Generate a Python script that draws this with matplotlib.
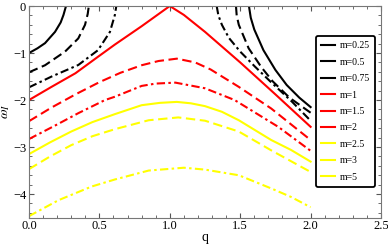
"""
Imaginary frequency omega_I versus q for several m.
"""

import numpy as np
import matplotlib
matplotlib.use("Agg")
import matplotlib.pyplot as plt
from matplotlib.ticker import MultipleLocator


plt.rcParams["font.family"] = ["Liberation Serif", "DejaVu Serif"]
plt.rcParams["mathtext.fontset"] = "stix"

# ---- data -------------------------------------------------------------
labels = ["m=0.25", "m=0.5", "m=0.75", "m=1", "m=1.5", "m=2",
          "m=2.5", "m=3", "m=5"]

# black curves come in two pieces (left branch, right branch)
q_025_left = [0, 0.06, 0.114, 0.185, 0.225, 0.245, 0.263]
w_025_left = [-1.0, -0.9, -0.79, -0.55, -0.35, -0.19, 0]
q_025_right = [1.562, 1.575, 1.60, 1.665, 1.75, 1.83, 1.92, 2.0]
w_025_right = [0, -0.25, -0.5, -0.94, -1.36, -1.68, -1.95, -2.15]

q_05_left = [0, 0.114, 0.256, 0.35, 0.398, 0.417, 0.425]
w_05_left = [-1.41, -1.26, -0.97, -0.69, -0.40, -0.17, 0]
q_05_right = [1.47, 1.475, 1.49, 1.56, 1.65, 1.73, 1.85, 2.0]
w_05_right = [0, -0.2, -0.4, -0.9, -1.3, -1.6, -1.95, -2.27]

q_075_left = [0, 0.161, 0.35, 0.49, 0.575, 0.61, 0.62]
w_075_left = [-1.73, -1.50, -1.255, -0.94, -0.55, -0.19, 0]
q_075_right = [1.333, 1.345, 1.37, 1.42, 1.50, 1.605, 1.712, 1.866, 2.0]
w_075_right = [0, -0.2, -0.4, -0.68, -0.97, -1.29, -1.6, -2.03, -2.44]

q_1 = [0, 0.16, 0.33, 0.49, 0.61, 0.8, 1.0, 1.1, 1.25, 1.5, 1.75, 2.0]
w_1 = [-2.0, -1.72, -1.43, -1.08, -0.82, -0.43, 0, -0.19, -0.55, -1.2,
       -1.88, -2.57]

q_15 = [0, 0.16, 0.33, 0.5, 0.65, 0.8, 0.92, 1.05, 1.18, 1.29, 1.49,
        1.72, 2.0]
w_15 = [-2.45, -2.16, -1.88, -1.62, -1.42, -1.26, -1.17, -1.12, -1.2,
        -1.35, -1.72, -2.18, -2.85]

q_2 = [0, 0.2, 0.35, 0.54, 0.61, 0.8, 0.9, 1.04, 1.25, 1.46, 1.77, 2.0]
w_2 = [-2.83, -2.52, -2.28, -2.0, -1.93, -1.70, -1.65, -1.63, -1.75,
       -2.0, -2.57, -3.08]

q_25 = [0, 0.15, 0.3, 0.45, 0.61, 0.8, 0.93, 1.05, 1.15, 1.25, 1.37,
        1.49, 1.72, 1.86, 2.0]
w_25 = [-3.15, -2.9, -2.67, -2.47, -2.30, -2.11, -2.06, -2.04, -2.07,
        -2.13, -2.25, -2.43, -2.85, -3.06, -3.31]

q_3 = [0, 0.15, 0.3, 0.45, 0.61, 0.85, 1.06, 1.25, 1.49, 1.72, 1.86, 2.0]
w_3 = [-3.47, -3.2, -2.96, -2.77, -2.62, -2.43, -2.37, -2.44, -2.67,
       -3.07, -3.3, -3.53]

q_5 = [0, 0.21, 0.445, 0.61, 0.85, 1.1, 1.25, 1.49, 1.72, 1.86, 2.0]
w_5 = [-4.47, -4.13, -3.84, -3.69, -3.50, -3.44, -3.48, -3.60, -3.88,
       -4.06, -4.28]

# ---- styles -------------------------------------------------------------
DASHED = (0, (4.5, 2.2))
DASHDOT = (0, (4.0, 1.6, 1.2, 1.6))
LW = 1.5

fig = plt.figure(figsize=(3.88, 2.45), dpi=100)
ax = fig.add_axes([0.0747, 0.112, 0.9073, 0.8635])

curves = [
    ([(q_025_left, w_025_left), (q_025_right, w_025_right)], "black", "-"),
    ([(q_05_left, w_05_left), (q_05_right, w_05_right)], "black", DASHED),
    ([(q_075_left, w_075_left), (q_075_right, w_075_right)], "black", DASHDOT),
    ([(q_1, w_1)], "red", "-"),
    ([(q_15, w_15)], "red", DASHED),
    ([(q_2, w_2)], "red", DASHDOT),
    ([(q_25, w_25)], "yellow", "-"),
    ([(q_3, w_3)], "yellow", DASHED),
    ([(q_5, w_5)], "yellow", DASHDOT),
]

handles = []
for (pieces, color, ls), label in zip(curves, labels):
    for q, w in pieces:
        ax.plot(q, w, color=color, linestyle=ls, linewidth=LW)
    # legend shows solid swatches only
    (h,) = ax.plot([], [], color=color, linestyle="-", linewidth=LW,
                   label=label)
    handles.append(h)

ax.set_xlim(0, 2.5)
ax.set_ylim(-4.5, 0)
ax.xaxis.set_minor_locator(MultipleLocator(0.1))
ax.yaxis.set_minor_locator(MultipleLocator(0.2))
ax.set_xticks([0, 0.5, 1.0, 1.5, 2.0, 2.5])
ax.set_xticklabels(["0.0", "0.5", "1.0", "1.5", "2.0", "2.5"])
ax.set_yticks([0, -1, -2, -3, -4])
ax.set_yticklabels(["0", "\u22121", "\u22122", "\u22123", "\u22124"])

ax.tick_params(which="both", direction="in", top=True, right=True,
               labelsize=9, colors="#555555", labelcolor="black", pad=2)
ax.tick_params(which="major", length=3.5)
ax.tick_params(which="minor", length=2)
for spine in ax.spines.values():
    spine.set_color("#777777")
    spine.set_linewidth(0.8)

ax.set_xlabel("q", fontsize=10, labelpad=-1)
ax.set_ylabel(r"$\omega_I$", fontsize=10, labelpad=1)

leg = ax.legend(handles=handles, loc="upper left",
                bbox_to_anchor=(0.815, 0.858), borderaxespad=0, fontsize=7,
                labelspacing=0.76, handlelength=1.4, handletextpad=0.5,
                borderpad=0.55, fancybox=True, framealpha=1)
leg.get_frame().set_edgecolor("black")
leg.get_frame().set_linewidth(1.3)

fig.savefig("out.png", dpi=100)
